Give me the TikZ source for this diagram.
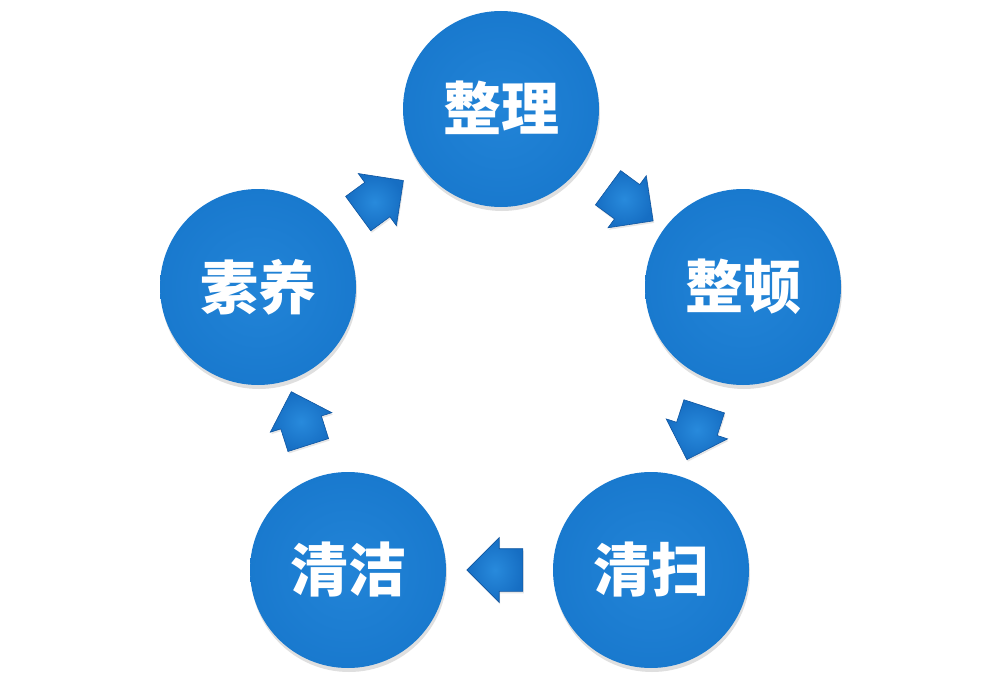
\documentclass[tikz,border=0pt]{standalone}
\usepackage{fontspec}
\newfontfamily\cjk{Noto Sans CJK SC}
\usetikzlibrary{calc,shapes.arrows,shadows,fadings}
\definecolor{bcA}{RGB}{34,132,215}
\definecolor{bcB}{RGB}{24,120,205}
\definecolor{bcC}{RGB}{20,110,195}
\definecolor{bcD}{RGB}{12,85,165}
\definecolor{arrowin}{RGB}{40,138,220}
\definecolor{arrowout}{RGB}{22,110,195}
\definecolor{arrowedge}{RGB}{15,85,160}
\pgfdeclareradialshading{ballshade}{\pgfpoint{0bp}{0bp}}{color(0bp)=(bcA); color(28bp)=(bcB); color(44bp)=(bcC); color(50bp)=(bcD); color(100bp)=(bcD)}
\tikzset{
  ball/.style={circle, minimum size=196pt, inner sep=0pt,
    shading=ballshade,
    drop shadow={opacity=0.25, shadow xshift=1pt, shadow yshift=-4pt},
    text=white, font=\cjk\bfseries\fontsize{58}{58}\selectfont},
  blockarrow/.style={single arrow, single arrow head extend=11pt,
    single arrow head indent=0pt, minimum height=56pt,
    inner xsep=0pt, inner ysep=21pt,
    inner color=arrowin, outer color=arrowout, draw=arrowedge, line width=0.6pt,
    drop shadow={opacity=0.2, shadow xshift=1pt, shadow yshift=-2pt}},
}
\begin{document}
\begin{tikzpicture}[x=1pt,y=-1pt]
\useasboundingbox (0,0) rectangle (1002,685);
\node[ball] (a) at (501,109) {\raisebox{6pt}{整理}};
\node[ball] (b) at (743,287) {\raisebox{6pt}{整顿}};
\node[ball] (c) at (651,570) {\raisebox{6pt}{清扫}};
\node[ball] (d) at (348,570) {\raisebox{6pt}{清洁}};
\node[ball] (e) at (258,287) {\raisebox{6pt}{素养}};
\foreach \s/\t/\q/\f in {e/a/ea/0.47, a/b/ab/0.5, b/c/bc/0.48, c/d/cd/0.48, d/e/de/0.5}{
  \path let \p1=($(\t)-(\s)$), \n1={atan2(\y1,\x1)} in
    node[blockarrow, rotate=\n1] (\q) at ($(\s)!\f!(\t)$) {};
}
\end{tikzpicture}
\end{document}
